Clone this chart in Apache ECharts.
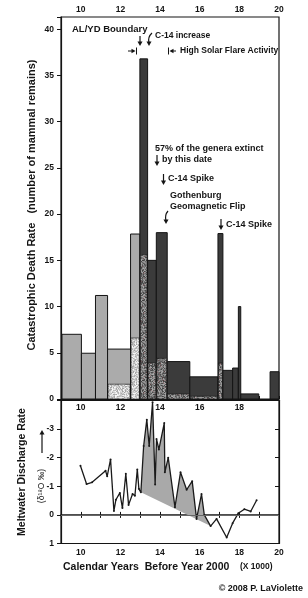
<!DOCTYPE html>
<html><head><meta charset="utf-8">
<script src="https://cdn.jsdelivr.net/npm/echarts@6/dist/echarts.min.js"></script>
<style>html,body{margin:0;padding:0;background:#fff}#c{width:308px;height:598px}</style>
</head><body><div id="c"></div>
<script>
// ---- Catastrophic death rate bars (x in kyr BP) ----
const barStart   = [9.05, 10.03, 10.74, 11.35, 12.51, 12.98, 13.37, 13.81, 14.36, 15.50, 16.92, 17.17, 17.66, 17.95, 18.07, 19.55];
const barEnd     = [10.03, 10.74, 11.35, 12.51, 12.98, 13.37, 13.81, 14.36, 15.50, 16.92, 17.17, 17.66, 17.95, 18.07, 18.98, 20.00];
const barTotal   = [7.0, 4.95, 11.2, 5.4, 17.85, 36.8, 15.0, 18.0, 4.05, 2.4, 17.9, 3.1, 3.35, 10.0, 0.55, 2.95];
const barSpeckle = [0, 0, 0, 1.6, 6.6, 15.6, 3.9, 4.4, 0.55, 0.3, 3.9, 0, 0, 0, 0, 0];
const barShade   = [0, 0, 0, 0, 0, 1, 1, 1, 1, 1, 1, 1, 1, 1, 1, 1]; // 0 light, 1 dark

// ---- Meltwater discharge (delta 18O permil) ----
const meltX = [9.98, 10.29, 10.57, 11.25, 11.33, 11.50, 11.67, 11.77, 11.97, 12.10, 12.27, 12.41, 12.61, 12.73, 12.85, 12.93, 13.03, 13.17, 13.33, 13.45, 13.62, 13.75, 13.82, 13.94, 14.21, 14.24, 14.41, 14.75, 15.03, 15.34, 15.62, 15.84, 16.09, 16.23, 16.55, 16.85, 17.36, 17.66, 17.95, 18.25, 18.57, 18.87];
const meltY = [-1.72, -1.08, -1.14, -1.54, -1.35, -1.94, -0.14, -0.53, -0.77, -0.24, -1.44, -0.35, -0.73, -0.67, -1.59, -0.91, -0.79, -2.41, -3.33, -2.41, -3.94, -1.06, -2.65, -2.29, -3.21, -1.49, -2.0, -0.27, -1.49, -0.88, -1.18, 0.14, -0.73, 0.0, 0.39, 0.14, 0.79, 0.29, -0.06, -0.2, -0.12, -0.51];
const fillFrom = 13.03, fillTo = 16.55;

// ---- tick labels ----
const xTickLabels = ['10', '12', '14', '16', '18', '20'];
const yTopTicks = [0, 5, 10, 15, 20, 25, 30, 35, 40];
const yBotTicks = [-3, -2, -1, 0, 1];

const FONT = '"Liberation Sans", Arial, Helvetica, sans-serif';
const INK = '#141414';
const LIGHT = '#ababab', DARK = '#3b3b3b';

function makePattern(base, spread, tint) {
  const n = 40, c = document.createElement('canvas');
  c.width = n; c.height = n;
  const ctx = c.getContext('2d');
  const img = ctx.createImageData(n, n);
  let s = 987654321;
  for (let i = 0; i < n * n; i++) {
    s = (Math.imul(s, 1103515245) + 12345) >>> 0;
    const r = ((s >>> 8) & 0xffff) / 65535;
    s = (Math.imul(s, 1103515245) + 12345) >>> 0;
    const r2 = ((s >>> 8) & 0xffff) / 65535;
    let v = base + (r - 0.5) * 2 * spread;
    v = Math.max(0, Math.min(255, v));
    let R = v, G = v, B = v;
    if (tint && r2 > 0.93) { R = v + 22; G = v - 6; B = v - 4; }
    img.data[i*4] = Math.min(255, R); img.data[i*4+1] = Math.max(0, G);
    img.data[i*4+2] = Math.max(0, B); img.data[i*4+3] = 255;
  }
  ctx.putImageData(img, 0, 0);
  return { image: c, repeat: 'repeat' };
}
const lightPat = makePattern(205, 45, false);
const darkPat = makePattern(118, 55, true);

const chart = echarts.init(document.getElementById('c'), null, { renderer: 'canvas' });

const lab = (sz) => ({ fontFamily: FONT, fontWeight: 'bold', fontSize: sz, color: INK });
const evenLabel = (v) => (Math.abs(v - Math.round(v)) < 1e-6 && Math.round(v) % 2 === 0 && xTickLabels.indexOf(String(Math.round(v))) >= 0) ? String(Math.round(v)) : '';

function arrowV(x, y1, y2) { // vertical arrow, head at y2
  const dir = y2 > y1 ? 1 : -1;
  return [
    { type: 'line', shape: { x1: x, y1: y1, x2: x, y2: y2 - dir * 3 }, style: { stroke: INK, lineWidth: 1.2 } },
    { type: 'polygon', shape: { points: [[x - 2.5, y2 - dir * 4.5], [x + 2.5, y2 - dir * 4.5], [x, y2]] }, style: { fill: INK } }
  ];
}
function arrowH(x1, x2, y) {
  const dir = x2 > x1 ? 1 : -1;
  return [
    { type: 'line', shape: { x1: x1, y1: y, x2: x2 - dir * 3, y2: y }, style: { stroke: INK, lineWidth: 1 } },
    { type: 'polygon', shape: { points: [[x2 - dir * 4, y - 2.2], [x2 - dir * 4, y + 2.2], [x2, y]] }, style: { fill: INK } }
  ];
}
function curvedDown(x0, y0, cx, cy, x1, y1) {
  return [
    { type: 'bezierCurve', shape: { x1: x0, y1: y0, cpx1: cx, cpy1: cy, x2: x1, y2: y1 - 3 }, style: { stroke: INK, lineWidth: 1.2, fill: null } },
    { type: 'polygon', shape: { points: [[x1 - 2.5, y1 - 4.5], [x1 + 2.5, y1 - 4.5], [x1, y1]] }, style: { fill: INK } }
  ];
}
function txt(x, y, s, sz, opts) {
  return Object.assign({ type: 'text', x: x, y: y, style: { text: s, fontFamily: FONT, fontWeight: 'bold', fontSize: sz, fill: INK, textAlign: 'left', textVerticalAlign: 'middle' } }, opts || {});
}

const graphics = [].concat(
  [txt(72, 29, 'AL/YD Boundary', 9.5)],
  arrowV(140, 36, 46),
  curvedDown(152, 33, 147.5, 37, 149, 46),
  [txt(155, 36, 'C-14 increase', 8.5)],
  arrowH(128, 135.5, 51),
  [{ type: 'line', shape: { x1: 136.5, y1: 47.5, x2: 136.5, y2: 54.5 }, style: { stroke: INK, lineWidth: 1 } }],
  [{ type: 'line', shape: { x1: 168.5, y1: 47.5, x2: 168.5, y2: 54.5 }, style: { stroke: INK, lineWidth: 1 } }],
  arrowH(176, 169.5, 51),
  [txt(180, 51, 'High Solar Flare Activity', 8.5)],
  [txt(155, 149, '57% of the genera extinct', 9)],
  arrowV(157, 155, 166),
  [txt(162, 160, 'by this date', 9)],
  arrowV(163.5, 174, 185),
  [txt(168, 179, 'C-14 Spike', 9)],
  [txt(170, 196, 'Gothenburg', 9), txt(170, 207, 'Geomagnetic Flip', 9)],
  curvedDown(168, 211, 164.5, 215, 166, 224),
  arrowV(221, 219, 230),
  [txt(226, 225, 'C-14 Spike', 9)],
  [txt(32, 205, 'Catastrophic Death Rate   (number of mammal remains)', 11, { rotation: Math.PI / 2 })],
  [txt(22, 472, 'Meltwater Discharge Rate', 10.5, { rotation: Math.PI / 2 })],
  [{ type: 'text', x: 42, y: 486, rotation: Math.PI / 2, style: { text: '(δ¹⁸O ‰)', fontFamily: FONT, fontSize: 8.5, fill: INK, textAlign: 'center', textVerticalAlign: 'middle' } }],
  arrowV(42, 453, 430),
  [txt(63, 567, 'Calendar Years  Before Year 2000', 10.5), txt(240, 567, '(X 1000)', 8.5)],
  [txt(303, 589, '© 2008 P. LaViolette', 9, { style: { text: '© 2008 P. LaViolette', fontFamily: FONT, fontWeight: 'bold', fontSize: 9, fill: INK, textAlign: 'right', textVerticalAlign: 'middle' } })]
);
graphics.forEach(g => { if (g.rotation) { g.style.textAlign = 'center'; } });

const option = {
  backgroundColor: '#fff',
  animation: false,
  grid: [
    { left: 61, right: 29, top: 17, height: 382, show: true, borderColor: INK, borderWidth: 1.2, backgroundColor: 'transparent' },
    { left: 61, right: 29, top: 400.5, height: 143, show: true, borderColor: INK, borderWidth: 1.2, backgroundColor: 'transparent' }
  ],
  xAxis: [
    { gridIndex: 0, type: 'value', position: 'top', min: 9, max: 20, interval: 1,
      axisLine: { lineStyle: { color: INK, width: 1.2 } },
      axisTick: { inside: false, length: 3, lineStyle: { color: INK } },
      axisLabel: Object.assign(lab(8.5), { margin: 2.5, formatter: evenLabel }), splitLine: { show: false } },
    { gridIndex: 1, type: 'value', position: 'top', min: 9, max: 20, interval: 1,
      axisLine: { lineStyle: { color: INK, width: 1.2 } },
      axisTick: { inside: true, length: 3, lineStyle: { color: INK } },
      axisLabel: Object.assign(lab(8.5), { inside: true, margin: 3, formatter: (v) => (v >= 19.5 ? '' : evenLabel(v)) }), splitLine: { show: false } },
    { gridIndex: 1, type: 'value', position: 'bottom', min: 9, max: 20, interval: 1,
      axisLine: { lineStyle: { color: INK, width: 1.6 } },
      axisTick: { inside: true, length: 3, lineStyle: { color: INK } },
      axisLabel: Object.assign(lab(8.5), { margin: 5, formatter: evenLabel }), splitLine: { show: false } }
  ],
  yAxis: [
    { gridIndex: 0, type: 'value', min: 0, max: 41.33, interval: 5,
      axisLine: { show: true, lineStyle: { color: INK, width: 1.2 } },
      axisTick: { inside: false, length: 4, lineStyle: { color: INK } },
      axisLabel: Object.assign(lab(8.5), { margin: 7, formatter: (v) => (yTopTicks.indexOf(v) >= 0 ? String(v) : '') }),
      splitLine: { show: false } },
    { gridIndex: 1, type: 'value', min: -4, max: 1, interval: 1, inverse: true,
      axisLine: { show: true, lineStyle: { color: INK, width: 1.2 } },
      axisTick: { inside: false, length: 4, lineStyle: { color: INK } },
      axisLabel: Object.assign(lab(8.5), { margin: 7, formatter: (v) => (yBotTicks.indexOf(v) >= 0 ? String(v) : '') }),
      splitLine: { show: false } },
    { gridIndex: 1, type: 'value', min: -4, max: 1, interval: 1, inverse: true, position: 'right',
      axisLine: { show: true, lineStyle: { color: INK, width: 1.2 } },
      axisTick: { inside: true, length: 4, lineStyle: { color: INK } },
      axisLabel: { show: false }, splitLine: { show: false } }
  ],
  series: [
    { type: 'custom', xAxisIndex: 0, yAxisIndex: 0, silent: true,
      data: barStart.map((x, i) => [x, barEnd[i], barTotal[i], barSpeckle[i], barShade[i]]),
      encode: { x: [0, 1], y: [2, 3] },
      renderItem: function (params, api) {
        const x0 = api.value(0), x1 = api.value(1), h = api.value(2), s = api.value(3), k = api.value(4);
        const a = api.coord([x0, 0]), b = api.coord([x1, h]);
        const children = [{ type: 'rect', shape: { x: a[0], y: b[1], width: b[0] - a[0], height: a[1] - b[1] },
          style: { fill: k ? DARK : LIGHT, stroke: INK, lineWidth: 1 } }];
        if (s > 0) {
          const c = api.coord([x1, s]);
          children.push({ type: 'rect', shape: { x: a[0] + 0.5, y: c[1], width: c[0] - a[0] - 1, height: a[1] - c[1] },
            style: { fill: k ? darkPat : lightPat, stroke: INK, lineWidth: 0.6 } });
        }
        return { type: 'group', children: children };
      } },
    { type: 'custom', xAxisIndex: 2, yAxisIndex: 1, silent: true, z: 1,
      data: [[fillFrom, 0]],
      renderItem: function (params, api) {
        const pts = [];
        meltX.forEach((x, i) => { if (x >= fillFrom - 1e-9 && x <= fillTo + 1e-9) pts.push(api.coord([x, meltY[i]])); });
        return { type: 'polygon', shape: { points: pts }, style: { fill: '#a9a9a9', stroke: null } };
      } },
    { type: 'line', xAxisIndex: 2, yAxisIndex: 1, z: 3,
      data: meltX.map((x, i) => [x, meltY[i]]),
      symbol: 'circle', symbolSize: 2, showSymbol: true,
      itemStyle: { color: '#1a1a1a' },
      lineStyle: { color: '#1a1a1a', width: 1.3 },
      markLine: { silent: true, symbol: 'none', label: { show: false },
        lineStyle: { color: '#666', width: 1, type: 'solid' }, data: [{ yAxis: 0 }] } }
  ],
  graphic: graphics
};
chart.setOption(option);
</script>
</body></html>
